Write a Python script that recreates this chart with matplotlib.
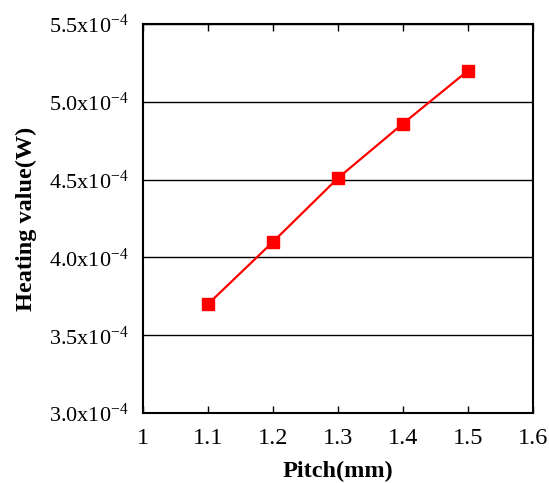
import matplotlib
matplotlib.use("Agg")
import matplotlib.pyplot as plt

pitch = [1.1, 1.2, 1.3, 1.4, 1.5]
heat = [3.70e-4, 4.10e-4, 4.51e-4, 4.86e-4, 5.20e-4]
xticks = [1.0, 1.1, 1.2, 1.3, 1.4, 1.5, 1.6]
xtick_labels = ["1", "1.1", "1.2", "1.3", "1.4", "1.5", "1.6"]
yticks = [3.0e-4, 3.5e-4, 4.0e-4, 4.5e-4, 5.0e-4, 5.5e-4]
ytick_mant = ["3.0", "3.5", "4.0", "4.5", "5.0", "5.5"]

plt.rcParams['font.family'] = ['Liberation Serif', 'DejaVu Serif']
plt.rcParams['mathtext.default'] = 'regular'
plt.rcParams['mathtext.fontset'] = 'custom'
plt.rcParams['mathtext.rm'] = 'Liberation Serif'

fig = plt.figure(figsize=(5.49, 4.83), dpi=100)
ax = fig.add_axes([0.2605, 0.1449, 0.7103, 0.8054])

ax.plot(pitch, heat, color='#ff0000', lw=1.6, marker='s', ms=9,
        markerfacecolor='#ff0000', markeredgecolor='#ff0000', zorder=3)

ax.set_xlim(1.0, 1.6)
ax.set_ylim(3.0e-4, 5.5e-4)
ax.set_xticks(xticks)
ax.set_xticklabels(xtick_labels, fontsize=17.5)
ax.set_yticks(yticks)
ax.set_yticklabels([r"%s$\mathregular{x}$10$^{-4}$" % m for m in ytick_mant], fontsize=16)
ax.yaxis.grid(True, color='black', lw=1.0)
ax.set_axisbelow(True)
ax.tick_params(axis='x', direction='in', top=True, length=5, width=1, pad=11, colors='black')
ax.tick_params(axis='y', direction='in', length=0, pad=10)
for s in ax.spines.values():
    s.set_linewidth(1.5)
    s.set_color('black')

ax.set_xlabel("Pitch(mm)", fontsize=17.5, fontweight='bold', labelpad=8)
ax.set_ylabel("Heating value(W)", fontsize=17.5, fontweight='bold', labelpad=9)

fig.savefig("out.png", dpi=100)
